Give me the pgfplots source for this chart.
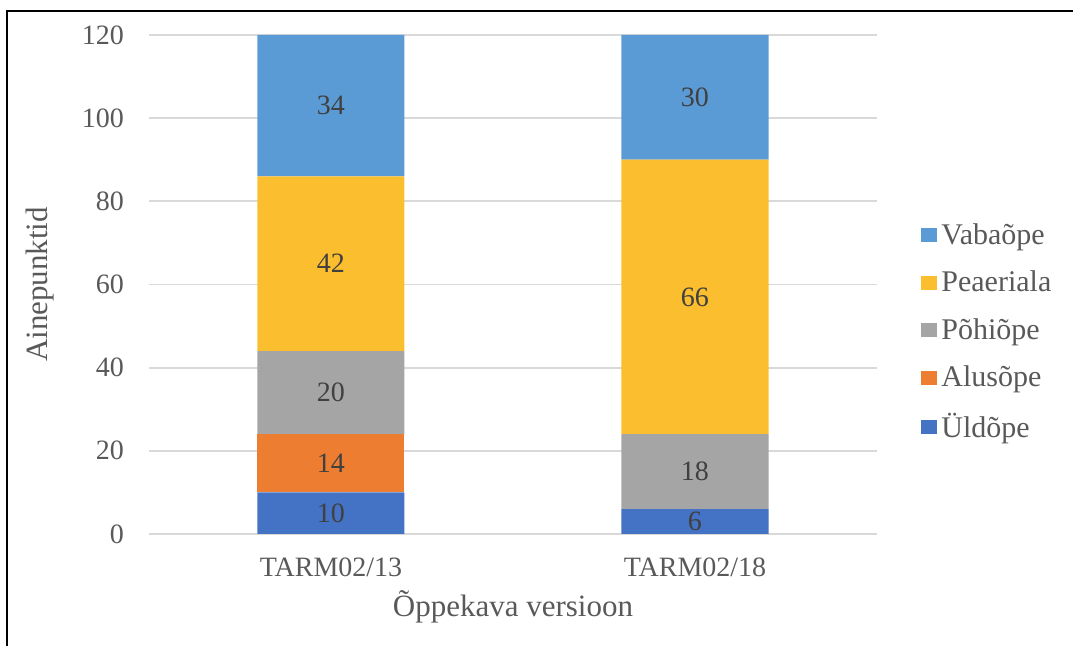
\documentclass[border=0pt]{standalone}
\usepackage{fontspec}
\setmainfont{Liberation Serif}
\usepackage{pgfplots}
\pgfplotsset{compat=1.18}
\definecolor{cUld}{HTML}{4472C4}
\definecolor{cAlus}{HTML}{ED7D31}
\definecolor{cPohi}{HTML}{A5A5A5}
\definecolor{cPea}{HTML}{FBBE2E}
\definecolor{cVaba}{HTML}{5B9BD5}
\definecolor{gridgray}{HTML}{D9D9D9}
\definecolor{labelgray}{HTML}{595959}
\definecolor{datagray}{HTML}{404040}
\begin{document}
\begin{tikzpicture}
\useasboundingbox (0pt,0pt) rectangle (536.5pt,323pt);
\draw[line width=1.2pt, black] (3.5pt,0pt) -- (3.5pt,317.5pt) -- (536.5pt,317.5pt);
\begin{axis}[
  at={(74.5pt,56pt)}, anchor=south west,
  scale only axis, width=364pt, height=249.5pt,
  /pgf/number format/assume math mode=true,
  ybar stacked, bar width=73.5pt,
  xmin=-0.5, xmax=1.5, ymin=0, ymax=120,
  xtick={0,1}, xticklabels={TARM02/13,TARM02/18},
  ytick={0,20,...,120},
  ymajorgrids, grid style={draw=gridgray, line width=0.9pt},
  axis line style={draw=none},
  major tick length=0pt,
  tick label style={font=\fontsize{14}{16}\selectfont, text=labelgray},
  yticklabel style={xshift=-9pt},
  xticklabel style={yshift=-8.5pt},
  xlabel={Õppekava versioon}, ylabel={Ainepunktid},
  label style={font=\fontsize{15.5}{18}\selectfont, text=labelgray},
  xlabel style={at={(axis description cs:0.5,-0.146)}, anchor=center},
  ylabel style={at={(axis description cs:-0.1497,0.5)}, anchor=center},
  nodes near coords={\pgfmathfloatifflags{\pgfplotspointmeta}{0}{}{\pgfmathprintnumber{\pgfplotspointmeta}}},
  every node near coord/.append style={anchor=center, font=\fontsize{14}{16}\selectfont, text=datagray},
  legend style={at={(axis description cs:1.0,0.405)}, anchor=west, xshift=19pt, draw=none, fill=none,
    font=\fontsize{15}{17}\selectfont, text=labelgray, row sep=7.8pt},
  legend cell align=left,
  reverse legend,
  legend image code/.code={\fill[#1] (0pt,-3.5pt) rectangle (8pt,3.5pt);},
]
\addplot[fill=cUld, draw=none] coordinates {(0,10) (1,6)};
\addlegendentry{Üldõpe}
\addplot[fill=cAlus, draw=none] coordinates {(0,14) (1,0)};
\addlegendentry{Alusõpe}
\addplot[fill=cPohi, draw=none] coordinates {(0,20) (1,18)};
\addlegendentry{Põhiõpe}
\addplot[fill=cPea, draw=none] coordinates {(0,42) (1,66)};
\addlegendentry{Peaeriala}
\addplot[fill=cVaba, draw=none] coordinates {(0,34) (1,30)};
\addlegendentry{Vabaõpe}
\end{axis}
\end{tikzpicture}
\end{document}
